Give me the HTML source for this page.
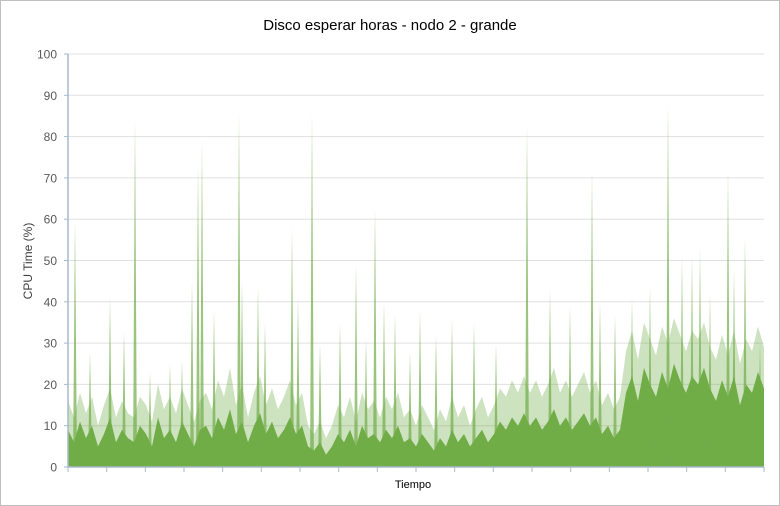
<!DOCTYPE html>
<html><head><meta charset="utf-8"><style>
body{margin:0;background:#fff;}
svg{display:block;font-family:"Liberation Sans",sans-serif;}
</style></head><body>
<svg id="chart" width="780" height="506">
<rect x="0.5" y="0.5" width="779" height="505" fill="#fff" stroke="#bfbfbf"/>
<text x="390" y="30" text-anchor="middle" font-size="15" fill="#000">Disco esperar horas - nodo 2 - grande</text>
<text x="413" y="488" text-anchor="middle" font-size="11" fill="#000">Tiempo</text>
<text transform="translate(32,261) rotate(-90)" text-anchor="middle" font-size="12" fill="#404040">CPU Time (%)</text>
<g id="grid"></g><g id="marks"></g><g id="axes"></g>
</svg>
<script>
const yTicks = [0,10,20,30,40,50,60,70,80,90,100];
const baseValues = [9,6,11,7,10,5,8,12,6,9,7,
6,10,8,5,12,7,9,6,11,8,5,9,
10,7,12,9,14,8,11,6,10,13,8,11,7,9,12,8,10,
5,4,6,3,5,
8,6,9,5,10,7,8,6,9,7,10,6,
7,5,8,6,4,7,5,9,6,8,5,7,9,6,8,
11,9,12,10,13,
10,12,9,11,14,10,12,9,11,13,10,12,
8,10,7,9,
18,22,16,24,20,17,23,19,25,21,18,22,20,24,
19,16,21,17,22,15,20,18,23,19];
const upperValues = [16,12,18,13,17,10,15,19,12,16,13,
12,17,15,11,20,14,17,13,19,15,11,16,
18,14,21,17,24,15,20,12,18,22,15,19,14,17,21,15,18,
10,8,11,7,10,
15,12,17,11,18,14,16,12,17,14,18,12,
14,10,15,12,9,14,11,17,12,15,10,14,17,12,15,
19,17,21,18,22,
18,21,17,20,24,18,21,17,20,23,18,21,
15,18,14,17,
28,33,26,35,31,27,34,30,36,32,28,33,31,35,
29,26,32,27,33,25,31,28,34,29];
const spikeTimes = [7,22,42,56,67,82,102,114,124,130,134,146,171,174,190,197,224,230,244,252,272,288,298,307,316,327,342,352,368,384,406,428,459,482,502,524,532,547,564,582,600,614,624,632,642,660,666,677,692];
const spikeValues = [60,28,41,33,84,23,25,26,45,73,79,38,86,45,44,35,58,41,86,30,35,49,31,63,40,37,28,38,32,36,35,30,83,43,39,72,40,37,41,44,88,51,51,53,42,72,48,56,30];
const X0=68,X1=764,Y0=467,Y1=54,TMAX=696;
const ns="http://www.w3.org/2000/svg";
const yS=v=>Y0-(v/100)*(Y0-Y1);
const xS=t=>X0+(t/TMAX)*(X1-X0);
const grid=document.getElementById('grid'),marks=document.getElementById('marks'),axes=document.getElementById('axes');
function mk(tag,attrs,parent){const e=document.createElementNS(ns,tag);for(const k in attrs)e.setAttribute(k,attrs[k]);parent.appendChild(e);return e;}
yTicks.forEach(v=>{
  if(v>0){const l=mk('line',{x1:X0,x2:X1,y1:yS(v),y2:yS(v),stroke:'#e0e0e0','stroke-width':1},grid);
  
  }
  const t=mk('text',{x:57,y:yS(v)+4.5,'text-anchor':'end','font-size':12,fill:'#595959'},axes);
  t.textContent=v;
  
  
});
function areaPath(vals){
  let d='M'+X0+','+Y0;
  vals.forEach((v,i)=>{d+=' L'+xS(i*TMAX/(vals.length-1)).toFixed(1)+','+yS(v).toFixed(1);});
  return d+' L'+X1+','+Y0+' Z';
}
const up=mk('path',{d:areaPath(upperValues),fill:'#70ad47','fill-opacity':0.35},marks);


const area=mk('path',{d:areaPath(baseValues),fill:'#70ad47'},marks);


spikeTimes.forEach((t,i)=>{
  const x=xS(t),top=yS(spikeValues[i]);
  const p=mk('polygon',{points:(x-2)+','+Y0+' '+x+','+top+' '+(x+2)+','+Y0,fill:'#70ad47','fill-opacity':0.7},marks);
  
  
});
const ya=mk('line',{x1:X0,x2:X0,y1:Y1,y2:Y0,stroke:'#a7b9cc','stroke-width':1.5},axes);


const xa=mk('line',{x1:X0,x2:X1,y1:Y0,y2:Y0,stroke:'#a7b9cc','stroke-width':1.5},axes);


for(let i=0;i<=18;i++){
  const x=X0+i*(X1-X0)/18;
  const tk=mk('line',{x1:x,x2:x,y1:Y0,y2:Y0+5,stroke:'#a7b9cc'},axes);
  
  
}
yTicks.forEach(v=>{
  const tk=mk('line',{x1:X0-4,x2:X0,y1:yS(v),y2:yS(v),stroke:'#a7b9cc'},axes);
  
  
});
</script>
</body></html>
